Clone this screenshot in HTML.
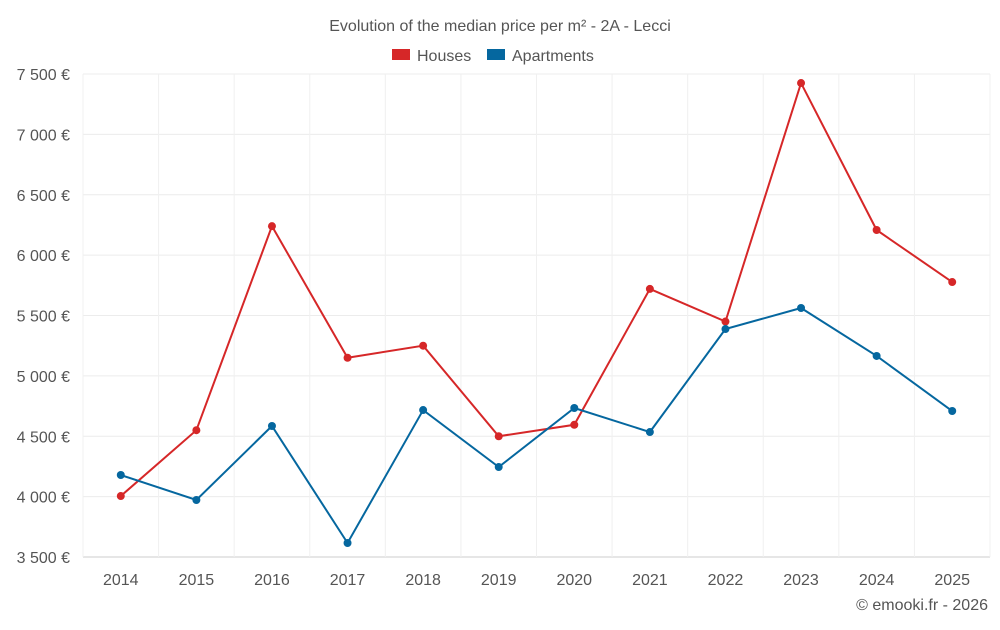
<!DOCTYPE html>
<html><head><meta charset="utf-8"><style>
body{margin:0;background:#fff;font-family:"Liberation Sans",sans-serif;}
svg text{font-family:"Liberation Sans",sans-serif;fill:#555;}
</style></head><body>
<svg id="chart" width="1000" height="625">
<text x="500" y="31" text-anchor="middle" font-size="16">Evolution of the median price per m² - 2A - Lecci</text>
<g>
<g><rect x="392" y="49" width="18" height="11" fill="#d62728"/><text x="417" y="61" font-size="16">Houses</text></g>
<g><rect x="487" y="49" width="18" height="11" fill="#05679f"/><text x="512" y="61" font-size="16">Apartments</text></g>
</g>
<g id="grid"></g><g id="axes"></g><g id="series"></g>
<text x="988" y="610" text-anchor="end" font-size="16">© emooki.fr - 2026</text>
</svg>
<script>
const years=["2014","2015","2016","2017","2018","2019","2020","2021","2022","2023","2024","2025"];
const houses=[4005,4550,6240,5150,5250,4500,4595,5720,5450,7425,6208,5777];
const apartments=[4179,3972,4585,3616,4717,4245,4734,4535,5388,5562,5165,4709];
const yTicks=[3500,4000,4500,5000,5500,6000,6500,7000,7500];
const L=83,R=990,T=74,B=557,yMin=3500,yMax=7500;
const bw=(R-L)/years.length;
const x=i=>L+bw*(i+0.5);
const y=v=>B-(v-yMin)/(yMax-yMin)*(B-T);
const NS="http://www.w3.org/2000/svg";
function mk(t,a,p){const e=document.createElementNS(NS,t);for(const k in a)e.setAttribute(k,a[k]);p.appendChild(e);return e;}
const g=document.getElementById('grid'),ax=document.getElementById('axes'),s=document.getElementById('series');
yTicks.forEach(v=>{
 const l=mk('line',{x1:L,x2:R,y1:y(v),y2:y(v),stroke:v===yMin?'#ccc':'#ececec'},g);
 
 
 const t=mk('text',{x:70,y:y(v)+6,'text-anchor':'end','font-size':16},ax);
 t.textContent=v.toLocaleString('en-US').replace(',',' ')+' €';
 
 
});
for(let i=0;i<=years.length;i++){
 const l=mk('line',{x1:L+bw*i,x2:L+bw*i,y1:T,y2:B,stroke:'#f0f0f0'},g);
 
 
}
years.forEach((yr,i)=>{
 const t=mk('text',{x:x(i),y:585,'text-anchor':'middle','font-size':16},ax);
 t.textContent=yr;
 
 
});
function series(data,color,name){
 const p=mk('polyline',{points:data.map((v,i)=>x(i)+','+y(v)).join(' '),fill:'none',stroke:color,'stroke-width':2},s);
 
 
 data.forEach((v,i)=>{
  const c=mk('circle',{cx:x(i),cy:y(v),r:4,fill:color},s);
  
  
 });
}
series(houses,'#d62728','houses');
series(apartments,'#05679f','apartments');
</script>
</body></html>
